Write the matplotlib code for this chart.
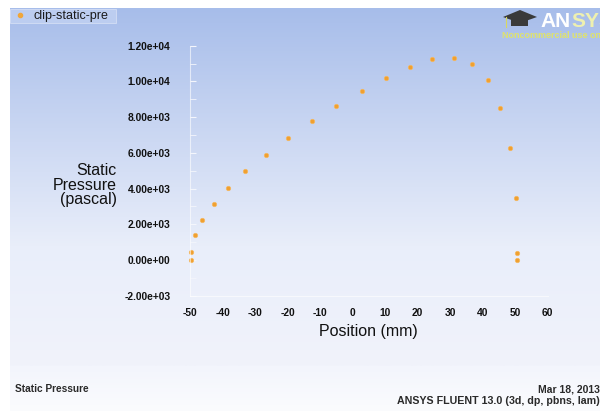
import matplotlib.pyplot as plt
import numpy as np
from matplotlib.colors import LinearSegmentedColormap

# Daten
position = [-49.8, -49.8, -48.5, -46.2, -42.7, -38.3, -33.0, -26.7, -20.0,
            -12.6, -5.1, 2.8, 10.2, 17.6, 24.6, 31.2, 36.9, 41.6, 45.5,
            48.4, 50.2, 50.6, 50.6]
pressure = [0, 465, 1383, 2240, 3135, 4050, 4966, 5897, 6830,
            7780, 8620, 9480, 10210, 10820, 11250, 11290, 10960, 10060, 8530,
            6270, 3490, 390, 20]
y_ticks = [-2000, 0, 2000, 4000, 6000, 8000, 10000, 12000]
x_ticks = [-50, -40, -30, -20, -10, 0, 10, 20, 30, 40, 50, 60]

plt.rcParams['font.family'] = ['Liberation Sans', 'DejaVu Sans']
plt.rcParams['axes.unicode_minus'] = False

W, H = 600, 411
fig = plt.figure(figsize=(6, 4.11), dpi=100)
fig.patch.set_facecolor('white')

# Hintergrund mit Verlauf
bg = fig.add_axes([0, 0, 1, 1])
bg.set_xlim(0, W)
bg.set_ylim(H, 0)
bg.axis('off')
cmap = LinearSegmentedColormap.from_list('bg', ['#a7bdea', '#c9d6f2', '#e9eefa', '#f1f3fb'])
grad = np.linspace(0, 1, 256).reshape(-1, 1)
bg.imshow(grad, cmap=cmap, extent=[10, W, 366, 9], aspect='auto', zorder=0)
cmap2 = LinearSegmentedColormap.from_list('ft', ['#f3f5fc', '#fbfcfe'])
bg.imshow(grad, cmap=cmap2, extent=[10, W, H, 366], aspect='auto', zorder=0)

# Legende
bg.add_patch(plt.Rectangle((10, 9), 106, 14, facecolor='#bccdf0', edgecolor='#d4def5', lw=0.6, zorder=1))
bg.plot(20, 15.5, 'o', color='#f0a63a', ms=3, zorder=2)
bg.text(33, 15.5, 'clip-static-pre', fontsize=9, va='center', ha='left', color='#1a1a1a', zorder=2)

# Logo (rechts abgeschnitten wie im Original)
bg.text(540, 27, 'AN', fontsize=15, weight='bold', color='white', ha='left', va='baseline', zorder=2)
bg.text(571, 27, 'SYS', fontsize=15, weight='bold', color='#eef0b0', ha='left', va='baseline', zorder=2)
bg.text(502, 38, 'Noncommercial use only', fontsize=6.5, weight='bold', color='#e0e36a', ha='left', va='baseline', zorder=2)
bg.add_patch(plt.Polygon([[503, 17], [520, 10], [537, 17], [520, 23]], facecolor='#3a3a3a', zorder=2))
bg.add_patch(plt.Rectangle((511, 18), 17, 8, facecolor='#3a3a3a', zorder=2))
bg.plot([506, 506], [17, 27], color='#d8d860', lw=0.8, zorder=3)

# Fusszeile
bg.text(15, 389, 'Static Pressure', fontsize=7.3, weight='bold', color='#2a2a2a', va='center', ha='left')
bg.text(600, 389, 'Mar 18, 2013', fontsize=7.5, weight='bold', color='#2a2a2a', va='center', ha='right')
bg.text(600, 401, 'ANSYS FLUENT 13.0 (3d, dp, pbns, lam)', fontsize=7.7, weight='bold', color='#2a2a2a', va='center', ha='right')

# Diagramm
x0, x1 = 190, 547.5
y0, y1 = 295.7, 45.7
ax = fig.add_axes([x0 / W, (H - y0) / H, (x1 - x0) / W, (y0 - y1) / H])
ax.patch.set_alpha(0)
ax.plot(position, pressure, 'o', color='#f0a030', ms=3.2, mec='#f5b860', mew=0.5, clip_on=False)
ax.set_xlim(-50, 60)
ax.set_ylim(-2000, 12000)
ax.set_xticks(x_ticks)
ax.set_yticks(y_ticks)
ax.set_yticklabels(['%.2e' % v for v in y_ticks])
ax.set_yticks(np.arange(-2000, 12001, 1000), minor=True)
for s in ['top', 'right']:
    ax.spines[s].set_visible(False)
for s in ['left', 'bottom']:
    ax.spines[s].set_color('white')
    ax.spines[s].set_alpha(0.6)
    ax.spines[s].set_linewidth(0.8)
ax.tick_params(axis='y', which='both', direction='in', color='#f4f6fc', length=4, pad=14,
               labelsize=7.4, labelcolor='#111111')
ax.tick_params(axis='x', which='both', length=0, pad=9, labelsize=7.4, labelcolor='#111111')
for lab in ax.get_xticklabels() + ax.get_yticklabels():
    lab.set_fontweight('bold')

ax.set_xlabel('Position (mm)', fontsize=11.5, color='#111111', labelpad=4)
fig.text(117 / W, (H - 185) / H, 'Static\nPressure\n(pascal)', fontsize=11.5, color='#111111',
         ha='right', va='center', linespacing=0.95)

fig.savefig('out.png', dpi=100)
